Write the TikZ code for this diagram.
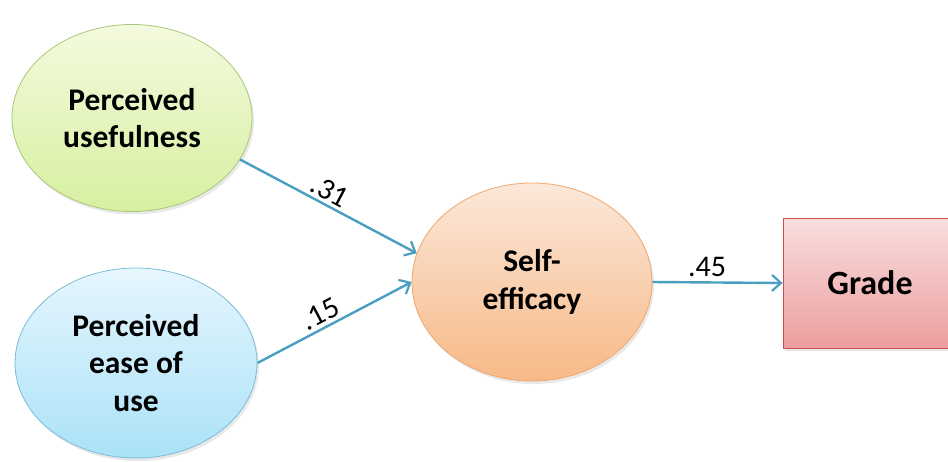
\documentclass[tikz,border=0pt]{standalone}
\usepackage{fontspec}
\setmainfont{Carlito}
\usetikzlibrary{shapes.geometric,arrows.meta,shadows}
\definecolor{arrowc}{HTML}{4A9FC0}
\tikzset{
  lat/.style={ellipse, inner sep=0pt, align=center,
    font=\fontsize{31.5}{37.5}\selectfont\bfseries, line width=0.8pt,
    drop shadow={shadow xshift=2pt, shadow yshift=-3pt, opacity=0.18}},
  conn/.style={draw=arrowc, line width=2.4pt, -{Straight Barb[length=9pt,width=16pt,line width=2.2pt]}},
  coef/.style={font=\fontsize{30}{32}\selectfont, text=black}
}
\begin{document}
\begin{tikzpicture}[x=1pt,y=-1pt]
\useasboundingbox (0,0) rectangle (948,461);
\node[lat, minimum width=240, minimum height=187, draw={rgb,255:red,170;green,200;blue,120},
  top color={rgb,255:red,244;green,250;blue,222}, bottom color={rgb,255:red,214;green,240;blue,160}]
  (pu) at (132,118) {Perceived\\usefulness};
\node[lat, minimum width=242, minimum height=190, draw={rgb,255:red,120;green,190;blue,215},
  top color={rgb,255:red,230;green,246;blue,253}, bottom color={rgb,255:red,170;green,226;blue,248}]
  (pe) at (136,363) {Perceived\\ease of\\use};
\node[lat, minimum width=240, minimum height=198, draw={rgb,255:red,240;green,168;blue,110},
  top color={rgb,255:red,251;green,232;blue,218}, bottom color={rgb,255:red,247;green,185;blue,135}]
  (se) at (532,282) {Self-\\efficacy};
\node[rectangle, minimum width=174, minimum height=130, inner sep=0pt, line width=0.8pt,
  draw={rgb,255:red,200;green,80;blue,80},
  top color={rgb,255:red,249;green,222;blue,222}, bottom color={rgb,255:red,236;green,158;blue,158},
  drop shadow={shadow xshift=2pt, shadow yshift=-3pt, opacity=0.18},
  font=\fontsize{34}{36}\selectfont\bfseries]
  (gr) at (870,283) {Grade};
\draw[conn] (pu.-21.6) -- node[coef, sloped, above, pos=0.47, inner sep=3pt] {.31} (se.166);
\draw[conn] (pe.east) -- node[coef, sloped, above, pos=0.45, inner sep=3pt] {.15} (se.west);
\draw[conn] (se.east) -- node[coef, above, pos=0.42, inner sep=4pt] {.45} (gr.west);
\end{tikzpicture}
\end{document}
